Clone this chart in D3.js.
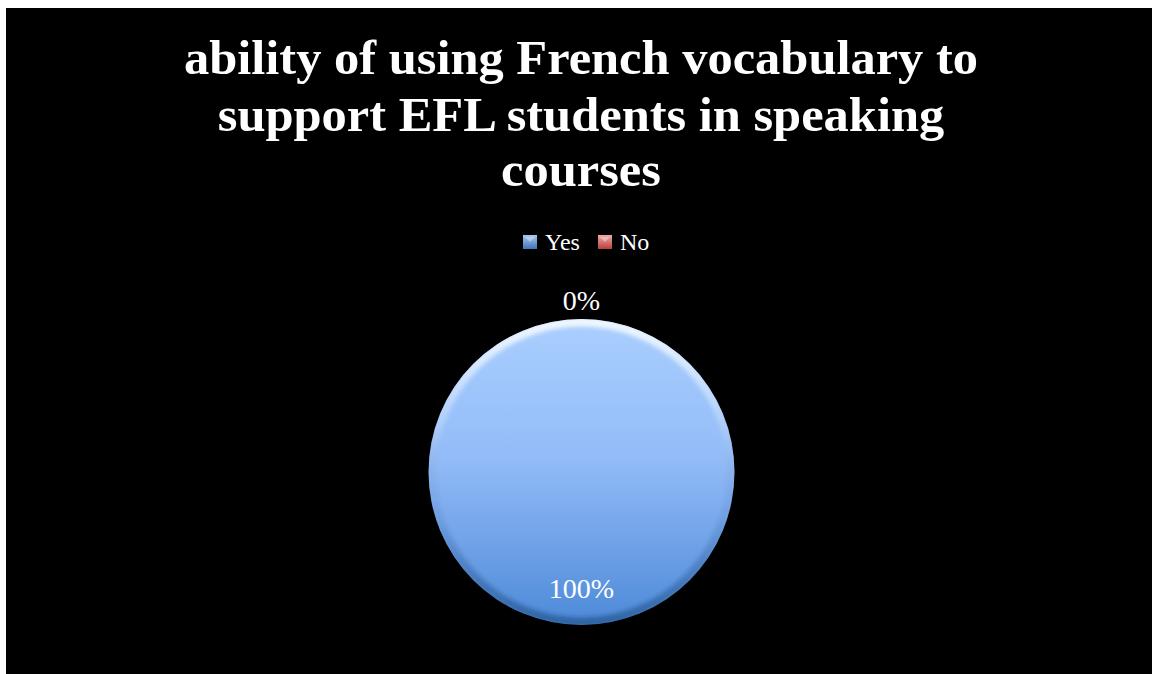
<!DOCTYPE html>
<html>
<head>
<meta charset="utf-8">
<script src="https://cdn.jsdelivr.net/npm/d3@7"></script>
<style>
  html, body { margin: 0; padding: 0; background: #ffffff; }
  svg { display: block; }
</style>
</head>
<body>
<svg id="chart" width="1153" height="674"></svg>
<script>
// ---- chart data ----
const titleLines = ["ability of using French vocabulary to", "support EFL students in speaking", "courses"];
const categories = ["Yes", "No"];
const values = [100, 0];
const percentLabels = ["100%", "0%"];

// ---- layout ----
const W = 1153, H = 674;
const cx = 581.5, cy = 472, R = 153;
const serif = "'Liberation Serif', 'DejaVu Serif', serif";

const svg = d3.select("#chart");
const defs = svg.append("defs");

// chart area background
svg.append("rect").attr("x", 6).attr("y", 8).attr("width", W - 7).attr("height", H - 8).attr("fill", "#000");

// slice gradients
const sliceGrad = {
  Yes: ["#aacffe", "#93bcf8", "#4d8ad8"],
  No: ["#f0a8a6", "#d9706d", "#b03d3a"]
};
categories.forEach(c => {
  const g = defs.append("linearGradient").attr("id", "fill-" + c)
    .attr("x1", 0).attr("y1", 0).attr("x2", 0).attr("y2", 1);
  g.append("stop").attr("offset", "0%").attr("stop-color", sliceGrad[c][0]);
  g.append("stop").attr("offset", "45%").attr("stop-color", sliceGrad[c][1]);
  g.append("stop").attr("offset", "100%").attr("stop-color", sliceGrad[c][2]);
});

// bevel rim: bright at top, slightly dark at bottom
const rim = defs.append("linearGradient").attr("id", "rim")
  .attr("gradientUnits", "userSpaceOnUse")
  .attr("x1", 0).attr("y1", -R).attr("x2", 0).attr("y2", R);
rim.append("stop").attr("offset", "0%").attr("stop-color", "#ffffff").attr("stop-opacity", 0.85);
rim.append("stop").attr("offset", "35%").attr("stop-color", "#ffffff").attr("stop-opacity", 0.2);
rim.append("stop").attr("offset", "60%").attr("stop-color", "#103060").attr("stop-opacity", 0.05);
rim.append("stop").attr("offset", "100%").attr("stop-color", "#0a2350").attr("stop-opacity", 0.4);

defs.append("filter").attr("id", "soft").attr("x", "-10%").attr("y", "-10%").attr("width", "120%").attr("height", "120%")
  .append("feGaussianBlur").attr("stdDeviation", 2.2);

defs.append("clipPath").attr("id", "pieClip")
  .append("circle").attr("cx", 0).attr("cy", 0).attr("r", R);

const legendGrad = { Yes: ["#a9c8ef", "#3f73b8"], No: ["#f0aaa8", "#b8403c"] };
categories.forEach(c => {
  const g = defs.append("linearGradient").attr("id", "leg-" + c)
    .attr("x1", 0).attr("y1", 0).attr("x2", 0).attr("y2", 1);
  g.append("stop").attr("offset", "0%").attr("stop-color", legendGrad[c][0]);
  g.append("stop").attr("offset", "100%").attr("stop-color", legendGrad[c][1]);
});

// ---- title ----
const title = svg.append("g").attr("font-family", serif).attr("font-weight", "bold")
  .attr("font-size", 49).attr("fill", "#fff").attr("text-anchor", "middle");
const titleBaselines = [74, 131, 186];
const tNodes = titleLines.map((t, i) =>
  title.append("text").attr("x", 581).attr("y", titleBaselines[i]).text(t));
const natural0 = tNodes[0].node().getComputedTextLength();
const squeeze = 794 / natural0;
tNodes.forEach(n => {
  const w = n.node().getComputedTextLength();
  n.attr("textLength", w * squeeze).attr("lengthAdjust", "spacingAndGlyphs");
});

// ---- legend ----
const legendX = [523, 598];
const legend = svg.append("g").attr("font-family", serif).attr("font-size", 24).attr("fill", "#fff");
categories.forEach((c, i) => {
  const g = legend.append("g").attr("transform", `translate(${legendX[i]},235)`);
  g.append("rect").attr("width", 14).attr("height", 14).attr("fill", `url(#leg-${c})`);
  g.append("path").attr("d", "M2,2 L12,2 L7,7 Z").attr("fill", "#fff").attr("opacity", 0.35);
  g.append("text").attr("x", 22).attr("y", 14.5).text(c);
});

// ---- pie ----
const pie = d3.pie().sort(null).value(d => d.value);
const arcs = pie(categories.map((c, i) => ({ cat: c, value: values[i], label: percentLabels[i] })));
const arc = d3.arc().innerRadius(0).outerRadius(R);
const innerLabelArc = d3.arc().innerRadius(R * 0.76).outerRadius(R * 0.76);
const outerLabelArc = d3.arc().innerRadius(R * 1.12).outerRadius(R * 1.12);

const pg = svg.append("g").attr("transform", `translate(${cx},${cy})`);
pg.selectAll("path.slice").data(arcs.filter(d => d.value > 0)).join("path")
  .attr("class", "slice")
  .attr("d", arc)
  .attr("fill", d => `url(#fill-${d.data.cat})`);

// bevel edge
pg.append("g").attr("clip-path", "url(#pieClip)")
  .append("circle").attr("r", R - 3).attr("fill", "none")
  .attr("stroke", "url(#rim)").attr("stroke-width", 9)
  .attr("filter", "url(#soft)");

// percentage labels
pg.selectAll("text.pct").data(arcs).join("text")
  .attr("class", "pct")
  .attr("font-family", serif).attr("font-size", 28).attr("fill", "#fff")
  .attr("text-anchor", "middle").attr("dominant-baseline", "central")
  .attr("transform", d => {
    const [x, y] = (d.value > 0 ? innerLabelArc : outerLabelArc).centroid(d);
    return `translate(${x},${y})`;
  })
  .text(d => d.data.label);
</script>
</body>
</html>
